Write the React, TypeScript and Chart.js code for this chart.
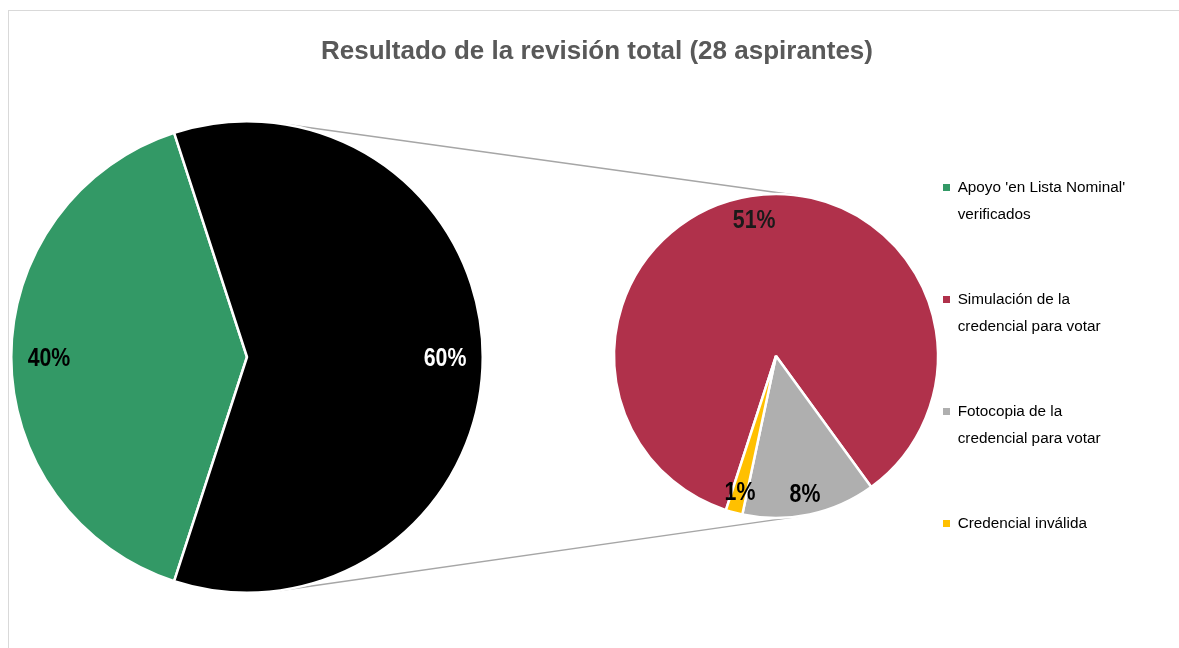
import React, { useEffect, useRef } from 'react';
import { Chart, registerables } from 'chart.js';

Chart.register(...registerables);

// ---------- data ----------
const chartTitle = 'Resultado de la revisión total (28 aspirantes)';

const mainCategories = ["Apoyo 'en Lista Nominal' verificados", 'Otros'];
const mainValues = [40, 60];
const mainColors = ['#339966', '#000000'];
const mainLabelColors = ['#000000', '#ffffff'];

const detailCategories = [
  'Simulación de la credencial para votar',
  'Fotocopia de la credencial para votar',
  'Credencial inválida',
];
const detailValues = [51, 8, 1];
const detailColors = ['#b0314b', '#afafaf', '#ffc000'];
const detailLabelColors = ['#1a1a1a', '#000000', '#000000'];

const legendLines = [
  ["Apoyo 'en Lista Nominal'", 'verificados'],
  ['Simulación de la', 'credencial para votar'],
  ['Fotocopia de la', 'credencial para votar'],
  ['Credencial inválida'],
];
const legendColors = [mainColors[0], ...detailColors];

// ---------- styling ----------
const FONT = "'Liberation Sans', Arial, sans-serif";
const W = 1175;
const H = 637;

function pctLabels(id: string, factor: number, size: number, colors: string[]) {
  return {
    id,
    afterDatasetsDraw(chart: any) {
      const ctx = chart.ctx;
      const meta = chart.getDatasetMeta(0);
      const data = chart.data.datasets[0].data;
      meta.data.forEach((el: any, i: number) => {
        const p = el.getProps(['x', 'y', 'startAngle', 'endAngle', 'outerRadius'], true);
        const mid = (p.startAngle + p.endAngle) / 2;
        const r = p.outerRadius * factor;
        ctx.save();
        ctx.translate(p.x + Math.cos(mid) * r, p.y + Math.sin(mid) * r);
        ctx.scale(0.82, 1); // condensed look of the original narrow typeface
        ctx.font = `bold ${size}px ${FONT}`;
        ctx.textAlign = 'center';
        ctx.textBaseline = 'alphabetic';
        ctx.fillStyle = colors[i];
        ctx.fillText(`${data[i]}%`, 0, size * 0.36);
        ctx.restore();
      });
    },
  };
}

export default function App() {
  const aRef = useRef<HTMLCanvasElement>(null);
  const bRef = useRef<HTMLCanvasElement>(null);

  useEffect(() => {
    if (!aRef.current || !bRef.current) return;

    const chartA = new Chart(aRef.current, {
      type: 'pie',
      data: {
        labels: mainCategories,
        datasets: [
          {
            data: mainValues,
            backgroundColor: mainColors,
            borderColor: '#ffffff',
            borderWidth: 2.5,
          },
        ],
      },
      options: {
        responsive: false,
        animation: false,
        rotation: 198,
        layout: { padding: { left: 1, right: 0, top: 0, bottom: 11 } },
        plugins: {
          title: {
            display: true,
            text: chartTitle,
            color: '#595959',
            font: { family: FONT, size: 26, weight: 'bold', lineHeight: 1.2 },
            padding: { top: 24.8, bottom: 10 },
          },
          // empty legend used as the right-hand spacer of this chart
          legend: {
            display: true,
            position: 'right',
            maxWidth: 700,
            labels: { padding: 800, generateLabels: () => [] },
          },
          tooltip: { enabled: false },
        },
      },
      plugins: [pctLabels('mainLabels', 0.84, 26, mainLabelColors)],
    } as any);

    const connectors = {
      id: 'connectors',
      beforeDatasetsDraw(chart: any) {
        const big: any = chartA.getDatasetMeta(0).data[0];
        const small: any = chart.getDatasetMeta(0).data[0];
        if (!big || !small) return;
        const R = big.outerRadius;
        const r = small.outerRadius;
        const dx = small.x - big.x;
        const dy = small.y - big.y;
        const d = Math.hypot(dx, dy);
        const ux = dx / d;
        const uy = dy / d;
        const s = (R - r) / d;
        const c = Math.sqrt(Math.max(0, 1 - s * s));
        const ctx = chart.ctx;
        ctx.save();
        ctx.strokeStyle = '#a6a6a6';
        ctx.lineWidth = 1.5;
        ctx.beginPath();
        for (const sign of [-1, 1]) {
          // normal of the external common tangent
          const nx = s * ux - sign * c * uy;
          const ny = s * uy + sign * c * ux;
          ctx.moveTo(big.x + R * nx, big.y + R * ny);
          ctx.lineTo(small.x + r * nx, small.y + r * ny);
        }
        ctx.stroke();
        ctx.restore();
      },
    };

    const padLines = (lines: string[], i: number) =>
      i < legendLines.length - 1 ? [...lines, ...Array(4 - lines.length).fill('')] : lines;

    const legendSize = 15.3;

    const chartB = new Chart(bRef.current, {
      type: 'pie',
      data: {
        labels: detailCategories,
        datasets: [
          {
            data: detailValues,
            backgroundColor: detailColors,
            borderColor: '#ffffff',
            borderWidth: 2.5,
            radius: 162,
          },
        ],
      },
      options: {
        responsive: false,
        animation: false,
        rotation: 198,
        layout: { padding: { left: 601, right: 57, top: 156.4, bottom: 103.4 } },
        plugins: {
          title: { display: false },
          legend: {
            display: true,
            position: 'right',
            align: 'end',
            maxWidth: 185,
            labels: {
              boxWidth: 7,
              boxHeight: 7,
              padding: 1,
              color: '#000000',
              font: { family: FONT, size: legendSize, lineHeight: 27.75 / legendSize },
              generateLabels: () =>
                legendLines.map((lines, i) => ({
                  text: padLines(lines, i),
                  fillStyle: legendColors[i],
                  strokeStyle: legendColors[i],
                  lineWidth: 0,
                  hidden: false,
                  index: i,
                  fontColor: '#000000',
                })),
            },
          },
          tooltip: { enabled: false },
        },
      },
      plugins: [connectors, pctLabels('detailLabels', 0.86, 26, detailLabelColors)],
    } as any);

    return () => {
      chartB.destroy();
      chartA.destroy();
    };
  }, []);

  return (
    <div
      style={{
        position: 'fixed',
        left: 8,
        top: 10,
        width: 1171,
        height: 638,
        boxSizing: 'border-box',
        borderTop: '1px solid #d9d9d9',
        borderLeft: '1px solid #d9d9d9',
        overflow: 'hidden',
        background: '#ffffff',
      }}
    >
      <canvas ref={bRef} width={W} height={H} style={{ position: 'absolute', left: 0, top: 0 }} />
      <canvas ref={aRef} width={W} height={H} style={{ position: 'absolute', left: 0, top: 0 }} />
    </div>
  );
}
